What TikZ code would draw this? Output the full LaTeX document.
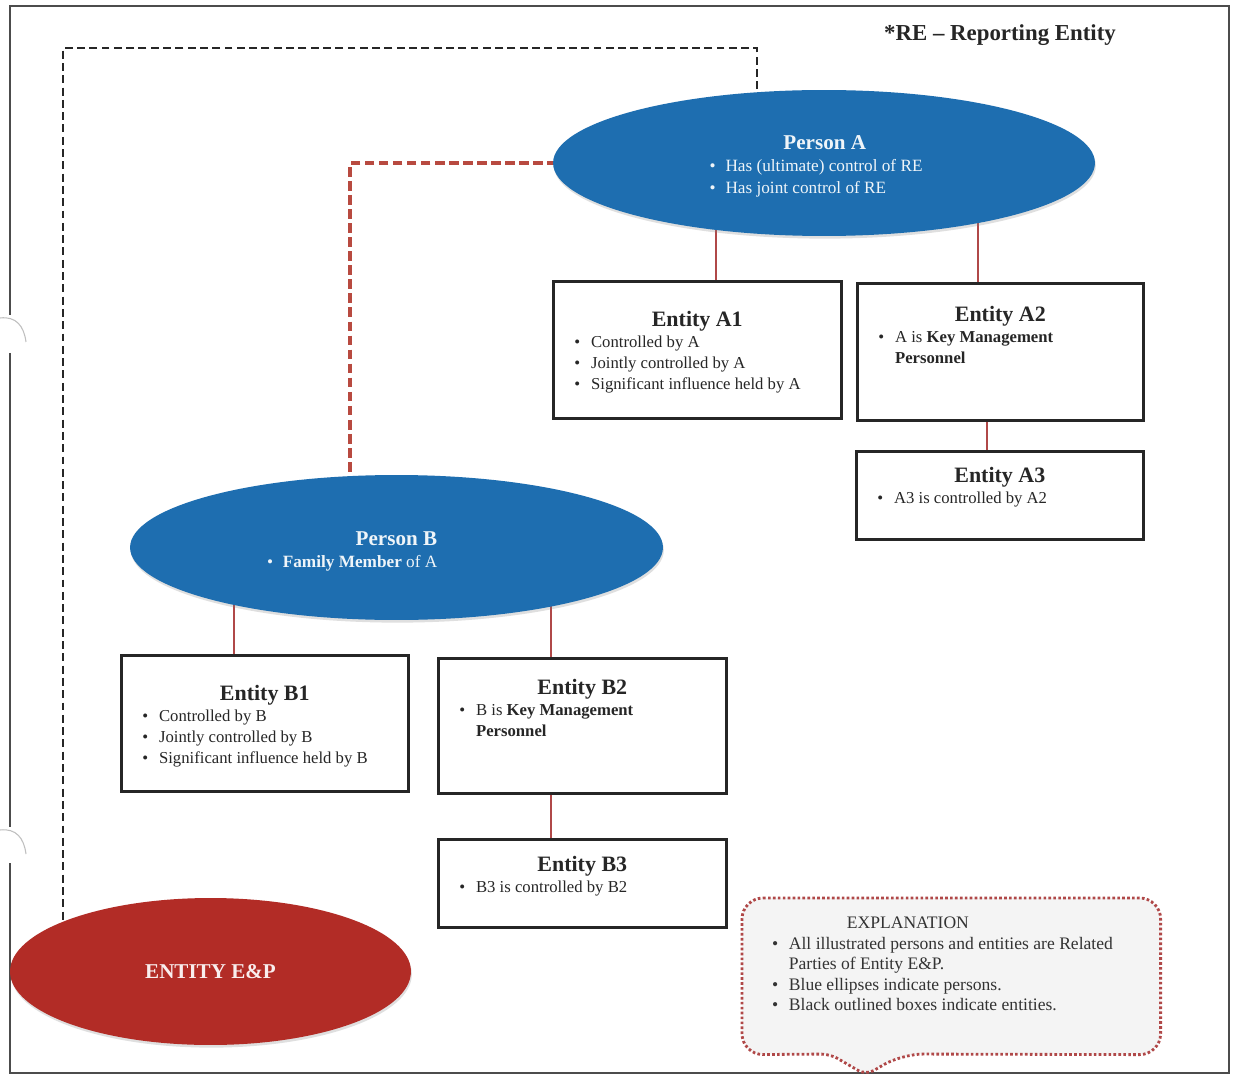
\documentclass[tikz,border=0pt]{standalone}
\usepackage{fontspec}
\setmainfont{Liberation Serif}
\usetikzlibrary{positioning,shapes.geometric,shadows,backgrounds}

\definecolor{personblue}{RGB}{30,110,176}
\definecolor{epred}{RGB}{178,44,38}
\definecolor{linkred}{RGB}{176,72,72}
\definecolor{dashred}{RGB}{184,74,64}
\definecolor{explfill}{RGB}{244,244,244}

\newcommand{\blt}{\makebox[9pt][l]{\textbullet}}
\newcommand{\pname}{\fontsize{12}{14}\selectfont\bfseries}
\newcommand{\hd}[1]{{\centering\fontsize{12.5}{15}\selectfont\bfseries #1\par}}
\newcommand{\itm}[2][12pt]{\par\noindent\hangindent=\dimexpr#1+9.5pt\relax\hangafter=1\hspace*{#1}\makebox[9.5pt][l]{\textbullet}#2}
\newcommand{\ebody}[4]{\parbox[c][#1][t]{#2}{\raggedright\fontsize{9.5}{12}\selectfont\vspace*{#3}#4\par}}

\tikzset{
  person/.style={ellipse, fill=personblue, text=white!93!personblue, inner sep=0pt,
    drop shadow={opacity=0.25, shadow xshift=0.5pt, shadow yshift=-1.5pt},
    font=\fontsize{9.8}{12.5}\selectfont},
  entep/.style={ellipse, fill=epred, text=white!92!epred, inner sep=0pt,
    minimum width=8.02cm, minimum height=2.94cm,
    drop shadow={opacity=0.25, shadow xshift=0.5pt, shadow yshift=-1.5pt},
    font=\fontsize{12}{14}\selectfont\bfseries},
  entity/.style={draw=black!85, line width=1.5pt, fill=white, inner sep=0pt,
    anchor=north west, text=black!85,
    drop shadow={opacity=0.2, shadow xshift=1pt, shadow yshift=-1pt}},
  link/.style={draw=linkred, line width=0.8pt},
  blackdash/.style={draw=black!85, line width=1.4pt, dash pattern=on 4.5pt off 2.5pt},
  reddash/.style={draw=dashred, line width=2.2pt, dash pattern=on 5.5pt off 2.5pt},
  frame/.style={draw=black!70, line width=1.4pt},
  callout/.style={draw=linkred, fill=explfill, line width=1.6pt,
    dash pattern=on 1.5pt off 1.3pt, rounded corners=12}
}

\begin{document}
\begin{tikzpicture}[x=0.02cm, y=-0.02cm]
\useasboundingbox (0,0) rectangle (1239,1077);

\node[font=\fontsize{13}{15}\selectfont\bfseries, text=black!85] (re) at (1000,35) {*RE -- Reporting Entity};

\node[person, minimum width=10.84cm, minimum height=2.92cm] (pA) at (824,163)
  {\raisebox{-2.5pt}[\height][\depth]{\hspace*{-9pt}\begin{tabular}{@{}l@{}}\hspace*{42pt}{\pname Person A}\\ \blt Has (ultimate) control of RE\\ \blt Has joint control of RE\end{tabular}}};
\node[person, minimum width=10.66cm, minimum height=2.9cm] (pB) at (396.5,547.5)
  {\raisebox{-2.5pt}[\height][\depth]{\hspace*{-50.5pt}\begin{tabular}{@{}l@{}}\hspace*{50.5pt}{\pname Person B}\\ \blt\textbf{Family Member} of A\end{tabular}}};
\node[entep] (ep) at (210.5,971.5) {ENTITY E\&P};

\node[entity] (eA1) at (552,280) {\ebody{2.74cm}{5.76cm}{17pt}{\hd{Entity A1}\itm{Controlled by A}\itm{Jointly controlled by A}\itm{Significant influence held by A}}};
\node[entity] (eA2) at (856,282) {\ebody{2.74cm}{5.72cm}{13pt}{\hd{Entity A2}\itm{A is \textbf{Key Management}\newline\textbf{Personnel}}}};
\node[entity] (eA3) at (855,450) {\ebody{1.76cm}{5.74cm}{9pt}{\hd{Entity A3}\itm{A3 is controlled by A2}}};
\node[entity] (eB1) at (120,654) {\ebody{2.72cm}{5.74cm}{17pt}{\hd{Entity B1}\itm{Controlled by B}\itm{Jointly controlled by B}\itm{Significant influence held by B}}};
\node[entity] (eB2) at (437,657) {\ebody{2.70cm}{5.76cm}{12pt}{\hd{Entity B2}\itm{B is \textbf{Key Management}\newline\textbf{Personnel}}}};
\node[entity] (eB3) at (437,838) {\ebody{1.76cm}{5.76cm}{9.6pt}{\hd{Entity B3}\itm{B3 is controlled by B2}}};

\node[anchor=north west, inner sep=0pt, text=black!80] (expl) at (742,898)
  {\parbox[c][3.12cm][t]{8.36cm}{\raggedright\fontsize{10}{11.6}\selectfont\vspace*{10.8pt}\noindent\hspace*{59.5pt}EXPLANATION\par
  \itm[17pt]{All illustrated persons and entities are Related\newline Parties of Entity E\&P.}\itm[17pt]{Blue ellipses indicate persons.}\itm[17pt]{Black outlined boxes indicate entities.}\par}};

\coordinate (tA1) at (716,0);
\coordinate (tA2) at (978,0);
\coordinate (tA3) at (987,0);
\coordinate (tB1) at (234,0);
\coordinate (tB2) at (551,0);
\coordinate (blk1) at (63,48);
\coordinate (blk2) at (757,48);
\coordinate (redbend) at (350,163);
\coordinate (tipL) at (830,1054);
\coordinate (tip) at (866,1075);
\coordinate (tipR) at (902,1054);

\begin{pgfonlayer}{background}
\fill[white] (0,0) rectangle (1239,1077);
\draw[frame] (10,315) -- (10,6) -- (1229,6) -- (1229,1073) -- (10,1073) -- (10,863);
\draw[frame] (10,353) -- (10,827);
\draw[black!25, line width=0.6pt] (0,318) .. controls (16,316) and (24,326) .. (26,342);
\draw[black!25, line width=0.6pt] (0,830) .. controls (16,828) and (24,838) .. (26,854);

\draw[blackdash] (blk2 |- pA.center) -- (blk2) -- (blk1) -- (blk1 |- ep.center);
\draw[reddash] (pA.center) -- (redbend) -- (redbend |- pB.center);

\draw[link] (eA1.north -| tA1) -- (pA.center -| tA1);
\draw[link] (eA2.north -| tA2) -- (pA.center -| tA2);
\draw[link] (eA2.south -| tA3) -- (eA3.north -| tA3);
\draw[link] (eB1.north -| tB1) -- (pB.center -| tB1);
\draw[link] (eB2.north -| tB2) -- (pB.center -| tB2);
\draw[link] (eB2.south -| tB2) -- (eB3.north -| tB2);

\draw[callout] (expl.north west) -- (expl.north east) -- (expl.south east) -- (tipR)
  [rounded corners=5] -- (tip) -- (tipL) [rounded corners=12] -- (expl.south west) -- cycle;
\end{pgfonlayer}
\end{tikzpicture}
\end{document}
